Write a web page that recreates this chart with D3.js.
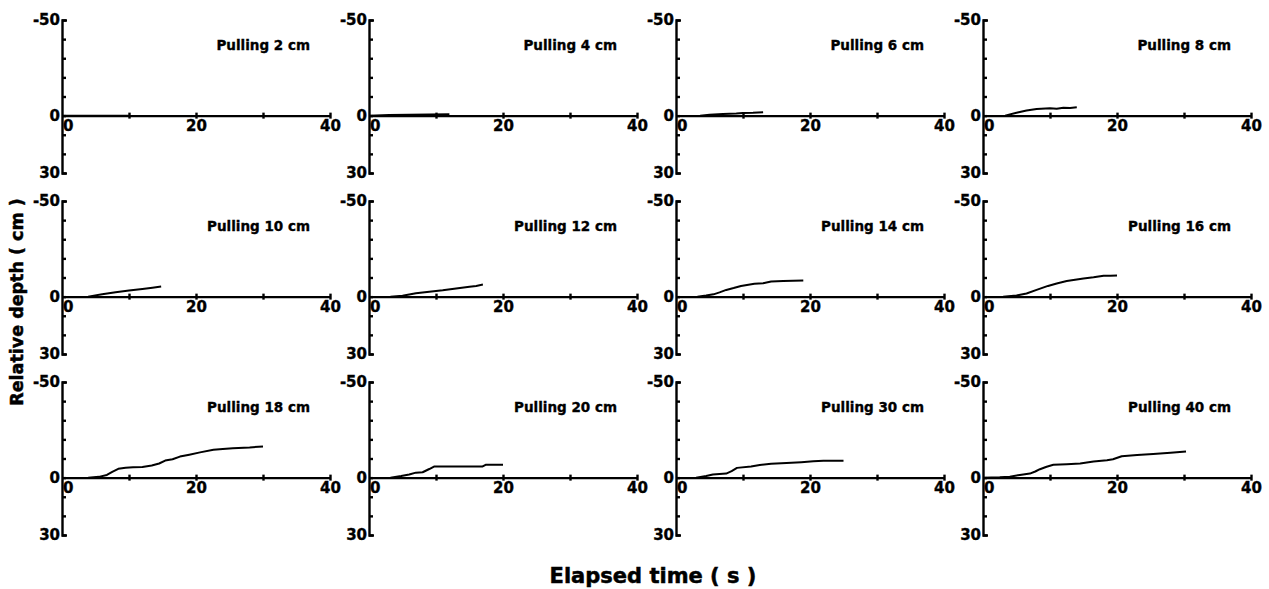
<!DOCTYPE html>
<html lang="en">
<head>
    <meta charset="UTF-8">
    <title>Relative depth vs elapsed time</title>
    <style>
        body, html {
            margin: 0;
            padding: 0;
            background-color: #ffffff;
        }
        svg text {
            font-family: "DejaVu Sans", sans-serif;
            font-weight: bold;
            fill: #000;
            stroke: #000;
            stroke-width: 0.35px;
        }
        .axis path, .axis line {
            stroke: #000;
            stroke-width: 2.4;
        }
    </style>
</head>
<body>
    <svg id="chart" width="1269" height="589"></svg>

    <script src="https://d3js.org/d3.v7.min.js"></script>
    <script>
        // Panel titles
        const titles = [
            "Pulling 2 cm", "Pulling 4 cm", "Pulling 6 cm", "Pulling 8 cm",
            "Pulling 10 cm", "Pulling 12 cm", "Pulling 14 cm", "Pulling 16 cm",
            "Pulling 18 cm", "Pulling 20 cm", "Pulling 30 cm", "Pulling 40 cm"
        ];

        // Axis ticks
        const xTicks = [10, 20, 30, 40];
        const xLabels = [0, 20, 40];
        const yTicks = [-50, -40, -30, -20, -10, 0, 10, 20, 30];
        const yLabels = [-50, 0, 30];

        // Each series: [elapsed time (s), relative depth (cm)]
        const pull2 = [[0, 0], [4, 0], [8, 0], [10, 0]];
        const pull4 = [[0, 0], [3, -0.3], [6, -0.5], [9, -0.6], [12, -0.7]];
        const pull6 = [[3.6, 0], [5, -0.4], [7, -0.8], [9, -1.1], [10, -1.4], [11.5, -1.5], [13, -1.8]];
        const pull8 = [[3.3, 0], [5, -1.5], [6.5, -2.7], [8, -3.5], [10, -3.8], [11, -3.6], [12, -4.1], [13, -4.0], [14, -4.4]];
        const pull10 = [[3.9, 0], [6, -1.2], [8, -2.3], [10, -3.2], [12, -4.0], [13.5, -4.7], [14.8, -5.3]];
        const pull12 = [[3.2, 0], [5, -0.5], [7, -1.8], [9, -2.6], [11, -3.3], [13, -4.3], [15, -5.2], [16, -5.6], [17, -6.3]];
        const pull14 = [[3.2, 0], [4.5, -0.6], [5.6, -1.2], [6.5, -2.2], [7.5, -3.5], [8.6, -4.5], [9.7, -5.6], [11.7, -6.7], [13, -7.0], [14.2, -7.9], [16, -8.2], [19, -8.4]];
        const pull16 = [[3, 0], [5, -0.6], [6.5, -1.6], [8, -3.5], [9.7, -5.6], [11, -6.9], [12.5, -8.2], [15, -9.5], [16.5, -10.1], [18, -10.9], [19, -10.9], [20, -11.0]];
        const pull18 = [[3.9, 0], [5.5, -0.4], [6.7, -1.4], [7.5, -3.0], [8.4, -4.6], [9.5, -5.2], [10.6, -5.4], [12, -5.6], [13.4, -6.3], [14.5, -7.4], [15.4, -8.9], [16.5, -9.6], [17.6, -11.0], [19, -12.0], [20.6, -13.2], [22.6, -14.6], [24, -15.0], [25.5, -15.4], [28, -15.8], [30, -16.3]];
        const pull20 = [[3.2, 0], [4.8, -0.8], [6, -1.6], [7, -2.6], [8, -2.8], [9, -4.5], [9.7, -5.8], [12, -5.8], [15, -5.8], [16.9, -5.8], [17.4, -6.7], [20, -6.7]];
        const pull30 = [[3, 0], [4.5, -0.8], [5.5, -1.6], [7.5, -2.1], [8.3, -3.4], [9.1, -5.1], [11.2, -5.8], [12.5, -6.6], [14.2, -7.2], [16.5, -7.6], [18.7, -8.1], [20.5, -8.5], [22, -8.8], [25, -8.8]];
        const pull40 = [[0, 0], [2.5, -0.2], [4, -0.5], [5.5, -1.4], [7, -2.1], [7.8, -3.2], [8.5, -4.4], [9.5, -5.7], [10.5, -6.7], [12.5, -7.0], [14.5, -7.4], [16.5, -8.4], [18.5, -9.1], [19.4, -9.6], [20.7, -11.2], [23, -11.8], [25.4, -12.3], [28, -13.0], [30.3, -13.7]];

        const series = [pull2, pull4, pull6, pull8, pull10, pull12,
                        pull14, pull16, pull18, pull20, pull30, pull40];

        const svg = d3.select("#chart");

        // Panel grid
        const colX = [62, 369, 676, 983];
        const rowY = [20, 201, 382];
        const panelW = 268;
        const panelH = 153;

        const x = d3.scaleLinear().domain([0, 40]).range([0, panelW]);
        const y = d3.scaleLinear().domain([-50, 30]).range([0, panelH]);

        const line = d3.line()
            .x(d => x(d[0]))
            .y(d => y(d[1]));

        series.forEach((data, i) => {
            const col = i % 4;
            const row = Math.floor(i / 4);
            const g = svg.append("g")
                .attr("transform", `translate(${colX[col]},${rowY[row]})`);

            // y axis with ticks pointing inward
            const yAxis = g.append("g")
                .attr("class", "axis")
                .call(d3.axisLeft(y)
                    .tickValues(yTicks)
                    .tickSizeInner(-4)
                    .tickSizeOuter(-5)
                    .tickPadding(3)
                    .tickFormat(d => yLabels.includes(d) ? d : ""));
            yAxis.selectAll("text")
                .attr("x", -2)
                .style("font-size", "15px");
            yAxis.selectAll(".tick line").attr("stroke-width", 1.6);

            // x axis along the zero line, cross ticks
            const xAxis = g.append("g")
                .attr("class", "axis")
                .attr("transform", `translate(0,${y(0)})`)
                .call(d3.axisBottom(x)
                    .tickValues(xTicks)
                    .tickSizeOuter(0)
                    .tickFormat(d => xLabels.includes(d) ? d : ""));
            xAxis.selectAll(".tick line")
                .attr("y1", -3)
                .attr("y2", 3)
                .attr("stroke-width", 1.8);
            xAxis.selectAll(".tick text")
                .attr("y", 5)
                .style("font-size", "15px");
            xAxis.append("text")
                .attr("x", 1)
                .attr("y", 5)
                .attr("dy", "0.71em")
                .attr("text-anchor", "start")
                .style("font-size", "15px")
                .text("0");

            // title
            g.append("text")
                .attr("x", 248)
                .attr("y", 30)
                .attr("text-anchor", "end")
                .style("font-size", "13.5px")
                .text(titles[i]);

            // trace
            g.append("path")
                .datum(data)
                .attr("fill", "none")
                .attr("stroke", "#000")
                .attr("stroke-width", 2)
                .attr("stroke-linejoin", "round")
                .attr("d", line);
        });

        // Axis titles
        svg.append("text")
            .attr("transform", "translate(23,302) rotate(-90)")
            .attr("text-anchor", "middle")
            .style("font-size", "17.5px")
            .style("stroke-width", "0.5px")
            .text("Relative depth ( cm )");

        svg.append("text")
            .attr("x", 653)
            .attr("y", 583)
            .attr("text-anchor", "middle")
            .style("font-size", "21px")
            .style("stroke-width", "0.5px")
            .text("Elapsed time ( s )");
    </script>
</body>
</html>
